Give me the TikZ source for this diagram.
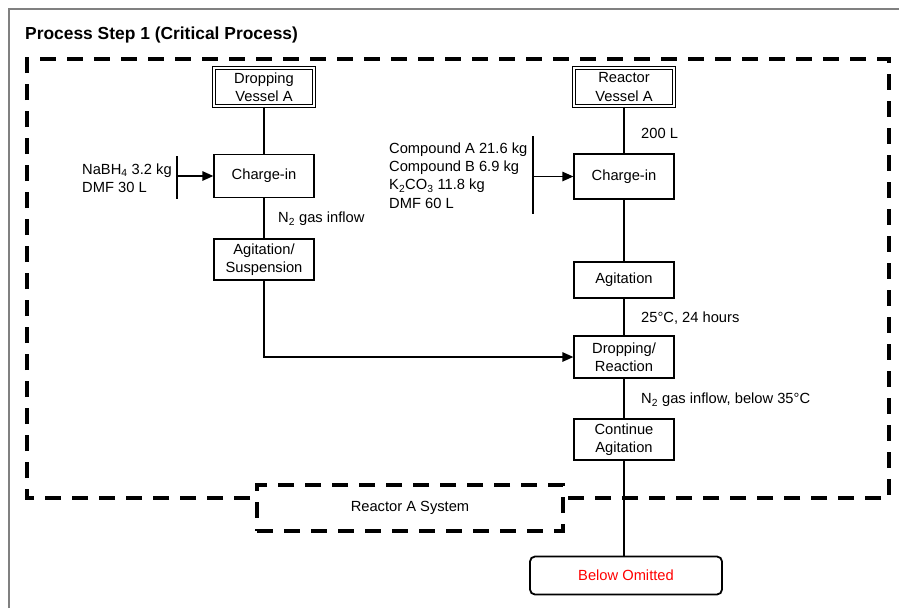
\documentclass[tikz,border=0pt]{standalone}
\usepackage{fontspec}
\setmainfont{Liberation Sans}
\usetikzlibrary{arrows.meta}
\begin{document}
\begin{tikzpicture}[x=1pt,y=-1pt,
  every node/.style={font=\fontsize{14.7}{18.3}\selectfont},
  procbox/.style={draw,line width=1.3pt,minimum width=100pt,minimum height=43pt,
    inner sep=0pt,align=center},
  vesselbox/.style={draw,double,double distance=1.6pt,line width=1pt,
    minimum width=100pt,minimum height=38pt,inner sep=0pt,align=center},
  endbox/.style={draw,line width=1.8pt,rounded corners=5pt,minimum width=192pt,
    minimum height=38pt,inner sep=0pt,text=red},
  zone/.style={line width=3.6pt,dash pattern=on 16pt off 11pt},
  flow/.style={line width=1.3pt},
  feed/.style={line width=1.3pt,-{Triangle[length=11pt,width=9.5pt]}},
  note/.style={anchor=west,inner sep=0pt,align=left}]
\useasboundingbox (0,0) rectangle (899,608);

% page frame
\draw[gray,line width=1.2pt] (9,608) -- (9,9) -- (899,9);

% heading
\node[anchor=west,inner sep=0pt,font=\fontsize{17.4}{20}\selectfont\bfseries] (title) at (25,35)
  {Process Step 1 (Critical Process)};

% reactor system boundary
\draw[zone] (250,498) -- (27,498) -- (27,59) -- (889,59) -- (889,498) -- (563,498);
\node[zone,draw,minimum width=306pt,minimum height=46pt,inner sep=0pt] (sys) at (410,508)
  {Reactor A System};

% left column: dropping vessel
\node[vesselbox] (dva) at (264,87) {Dropping\\Vessel A};
\node[procbox] (cl) at (264,176) {Charge-in};
\node[procbox,minimum height=41pt] (agsus) at (264,259.5) {Agitation/\\Suspension};

% right column: reactor vessel
\node[vesselbox] (rva) at (624,87) {Reactor\\Vessel A};
\node[procbox,minimum height=45pt] (cr) at (624,176.5) {Charge-in};
\node[procbox,minimum height=36pt] (ag) at (624,280) {Agitation};
\node[procbox,minimum height=42pt] (drop) at (624,357) {Dropping/\\Reaction};
\node[procbox,minimum height=41pt] (cont) at (624,439.5) {Continue\\Agitation};
\node[endbox] (omit) at (626,575.5) {Below Omitted};

% material feeds
\coordinate (lbtop) at (177,156);
\coordinate (lbbot) at (177,199);
\coordinate (lbmid) at (177,176);
\draw[flow] (lbtop) -- (lbbot);
\draw[feed] (lbmid) -- (cl.west);
\node[note] (lfeed) at (82,178.5) {NaBH\textsubscript{4} 3.2 kg\\DMF 30 L};

\coordinate (rbtop) at (533,136);
\coordinate (rbbot) at (533,214);
\coordinate (rbmid) at (533,176.5);
\draw[flow] (rbtop) -- (rbbot);
\draw[feed] (rbmid) -- (cr.west);
\node[note] (rfeed) at (389,175.5)
  {Compound A 21.6 kg\\Compound B 6.9 kg\\K\textsubscript{2}CO\textsubscript{3} 11.8 kg\\DMF 60 L};

% connectors
\draw[flow] (dva) -- (cl);
\draw[flow] (cl) -- (agsus);
\draw[flow] (rva) -- (cr);
\draw[flow] (cr) -- (ag);
\draw[flow] (ag) -- (drop);
\draw[flow] (drop) -- (cont);
\draw[flow] (cont.south) -- (cont.south |- omit.north);
\draw[feed] (agsus.south) |- (drop.west);

% conditions
\node[note] (n2a) at (278,219) {N\textsubscript{2} gas inflow};
\node[note] (vol) at (641,133) {200 L};
\node[note] (temp) at (641,318) {25°C, 24 hours};
\node[note] (n2b) at (641,400) {N\textsubscript{2} gas inflow, below 35°C};
\end{tikzpicture}
\end{document}
